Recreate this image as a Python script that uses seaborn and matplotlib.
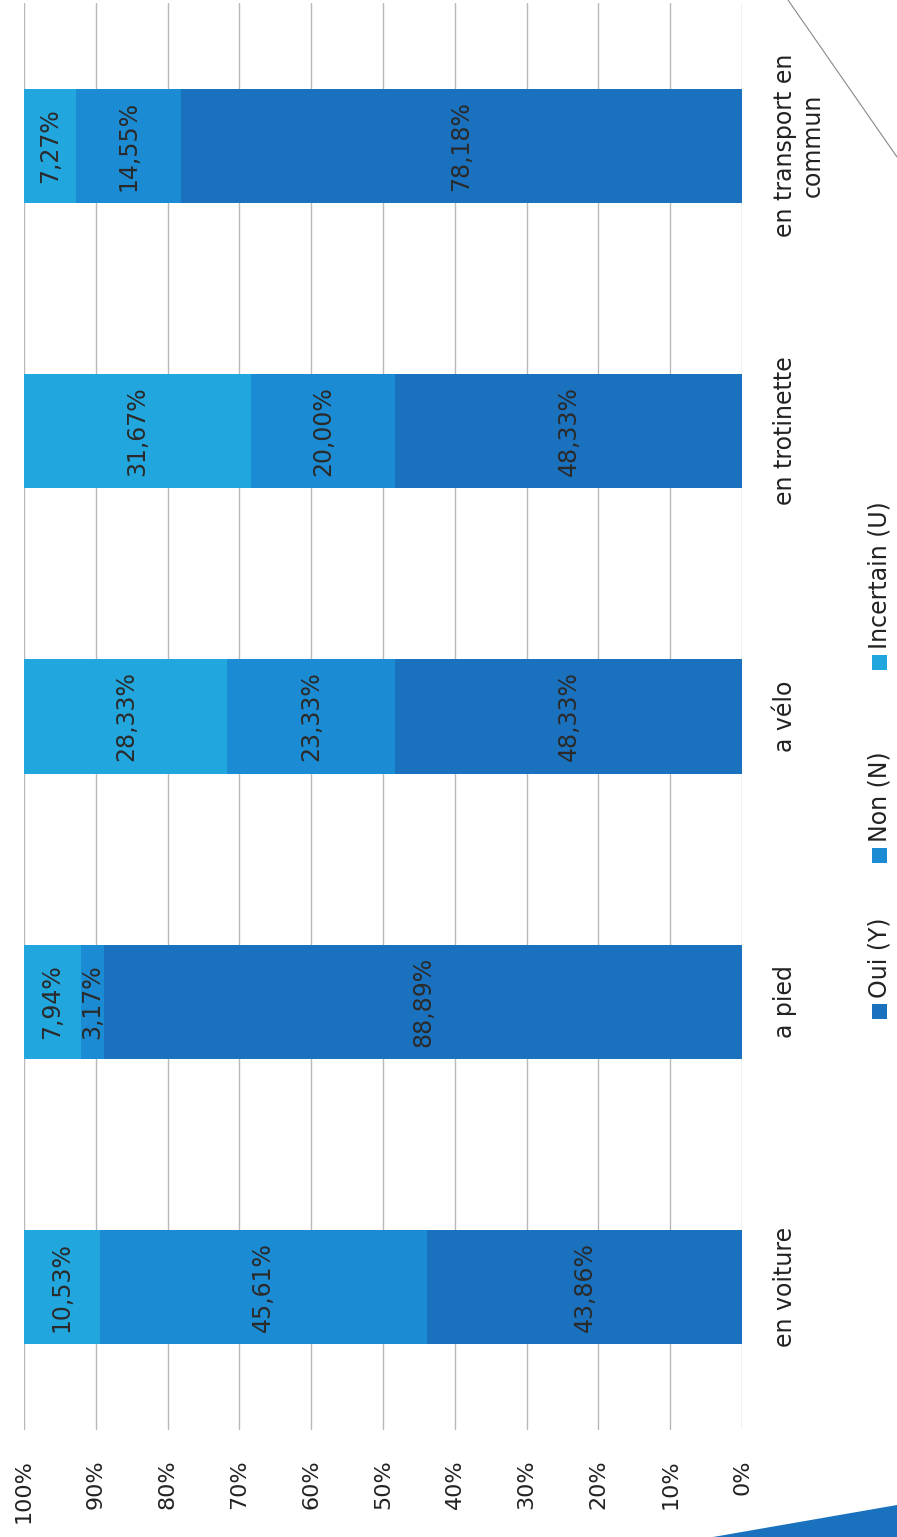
import matplotlib
matplotlib.use("Agg")
import matplotlib.pyplot as plt
import seaborn as sns
import pandas as pd
from matplotlib.patches import Rectangle, Polygon
from matplotlib.lines import Line2D

# ---------------- data ----------------
categories = ["en voiture", "a pied", "a vélo", "en trotinette", "en transport en\ncommun"]
oui = [43.86, 88.89, 48.33, 48.33, 78.18]
non = [45.61, 3.17, 23.33, 20.00, 14.55]
incertain = [10.53, 7.94, 28.33, 31.67, 7.27]
series_names = ["Oui (Y)", "Non (N)", "Incertain (U)"]
tick_values = [0, 10, 20, 30, 40, 50, 60, 70, 80, 90, 100]
tick_labels = [f"{v}%" for v in tick_values]

colors = ["#1a72bf", "#1b8bd3", "#22a6de"]  # Oui, Non, Incertain

sns.set_theme(style="white")
plt.rcParams['font.family'] = ['DejaVu Sans']

W, H = 897, 1537
fig = plt.figure(figsize=(W / 100, H / 100), dpi=100)
fig.patch.set_facecolor("white")

ax_left, ax_right, ax_top, ax_bottom = 24, 742, 3, 1430
ax = fig.add_axes([ax_left / W, 1 - ax_bottom / H,
                   (ax_right - ax_left) / W, (ax_bottom - ax_top) / H])

df = pd.DataFrame({"cat": categories, "oui": oui, "non": non, "inc": incertain})
df["c1"] = df["oui"]
df["c2"] = df["oui"] + df["non"]
df["c3"] = df["c2"] + df["inc"]
order = categories[::-1]

for col, color in zip(["c3", "c2", "c1"], colors[::-1]):
    sns.barplot(data=df, x=col, y="cat", order=order, orient="h",
                color=color, width=0.4, saturation=1, ax=ax,
                edgecolor="none", linewidth=0, zorder=2)

ax.set_xlim(100, 0)
ax.set_ylim(4.5, -0.5)
ax.set_xlabel("")
ax.set_ylabel("")
for s in ax.spines.values():
    s.set_visible(False)
ax.grid(axis="x", color="#b8b8b8", linewidth=1.0)
ax.grid(axis="y", visible=False)
ax.set_axisbelow(True)

ax.set_xticks(tick_values)
ax.set_xticklabels(tick_labels, rotation=90, va="top", ha="center",
                   fontsize=16, color="#222222")
ax.yaxis.tick_right()
ax.set_yticks(range(len(order)))
ax.set_yticklabels(order, rotation=90, va="center", ha="left",
                   multialignment="center", fontsize=17, color="#222222")
ax.tick_params(axis="x", length=0, pad=21)
ax.tick_params(axis="y", length=0, pad=22)

# data labels
pos = {c: i for i, c in enumerate(order)}
for i, cat in enumerate(categories):
    y = pos[cat]
    start = 0
    for vals in (oui, non, incertain):
        v = vals[i]
        label = f"{v:.2f}%".replace(".", ",")
        ax.text(start + v / 2, y, label, rotation=90, ha="center", va="center",
                fontsize=17, color="#2a2a2a", zorder=3)
        start += v

# legend (rotated, manual)
leg_x = 879
sq = 15
leg_items = [(series_names[0], colors[0], 1011),
             (series_names[1], colors[1], 855),
             (series_names[2], colors[2], 662)]
for name, color, yc in leg_items:
    fig.add_artist(Rectangle(((leg_x - sq / 2) / W, 1 - (yc + sq / 2) / H),
                             sq / W, sq / H, transform=fig.transFigure,
                             facecolor=color, edgecolor="none"))
    fig.text(leg_x / W, 1 - (yc - sq / 2 - 6) / H, name, rotation=90,
             ha="center", va="bottom", fontsize=17, color="#222222")

# scan decorations
fig.add_artist(Line2D([788 / W, 1.0], [1.0, 1 - 157 / H],
                      transform=fig.transFigure, color="#888888", lw=0.8))
fig.add_artist(Polygon([(713 / W, 0), (1.0, 0), (1.0, 1 - 1505 / H)],
                       closed=True, transform=fig.transFigure,
                       facecolor="#1a72bf", edgecolor="none"))

fig.savefig("out.png", dpi=100)
